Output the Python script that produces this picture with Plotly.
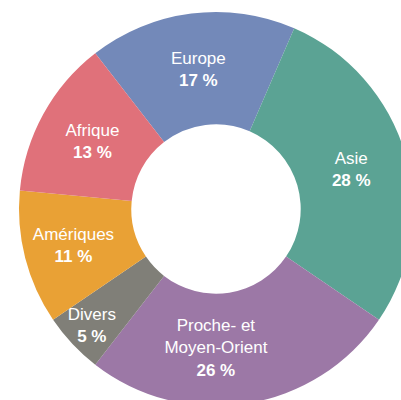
import plotly.graph_objects as go

# Data
regions = ["Europe", "Asie", "Proche- et<br>Moyen-Orient", "Divers", "Amériques", "Afrique"]
shares = [17, 28, 26, 5, 11, 13]
colors = ["#7389b9", "#5ba394", "#9c78a6", "#807f78", "#e9a135", "#e0717a"]

fig = go.Figure(
    go.Pie(
        labels=regions,
        values=shares,
        sort=False,
        direction="clockwise",
        rotation=-37.8,
        hole=0.43,
        marker=dict(colors=colors, line=dict(width=0)),
        texttemplate="%{label}<br><b>%{value} %</b>",
        textposition="inside",
        insidetextorientation="horizontal",
        textfont=dict(family="Liberation Sans, Arial, sans-serif", size=17, color="white"),
        hoverinfo="label+value",
        showlegend=False,
    )
)

W, H = 432, 418
cx, cy, R = 216, 209, 197
fig.update_traces(domain=dict(x=[(cx - R) / W, (cx + R) / W],
                              y=[1 - (cy + R) / H, 1 - (cy - R) / H]))
fig.update_layout(
    width=W,
    height=H,
    margin=dict(l=0, r=0, t=0, b=0),
    paper_bgcolor="white",
    plot_bgcolor="white",
    uniformtext=dict(minsize=17, mode="show"),
)

fig.write_html(
    "out.html",
    config={"displayModeBar": False},
    post_script="document.body.style.margin='0';document.body.style.overflow='hidden';",
)
